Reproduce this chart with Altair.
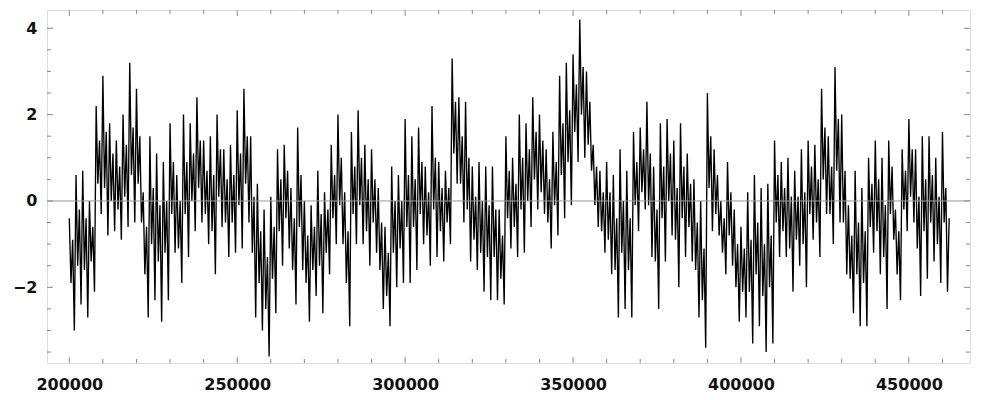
import altair as alt
import pandas as pd

values = [
    -0.4, -1.9, -0.9, -3.0, 0.6, -1.5, -0.2, -2.4, 0.7, -1.6, -0.4, -2.7, 0.0, -1.4, -0.6, -2.1, 2.2, 0.4, 1.4, -0.3,
    2.9, 0.3, 1.6, -0.8, 1.8, 0.0, 1.1, -0.7, 1.4, -0.2, 0.8, -0.9, 2.0, 0.1, 1.3, -0.6, 3.2, 0.6, 1.7, -0.5,
    2.6, 0.4, 1.5, -0.5, 0.2, -1.7, -0.6, -2.7, 1.5, -1.0, 0.3, -2.3, 1.1, -1.4, -0.1, -2.8, 0.9, -1.2, 0.0, -2.3,
    1.8, -0.3, 0.9, -1.2, 0.6, -1.1, 0.0, -1.9, 2.0, -0.3, 0.9, -1.3, 1.8, 0.0, 1.1, -0.7, 2.4, 0.3, 1.4, -0.5,
    1.4, -0.3, 0.7, -1.0, 1.5, -0.7, 0.6, -1.7, 2.0, 0.1, 1.2, -0.6, 1.2, -0.5, 0.5, -1.3, 1.3, -0.5, 0.6, -1.2,
    2.1, -0.1, 1.1, -1.1, 2.6, 0.4, 1.5, -0.5, 1.5, -1.2, 0.1, -2.7, 0.4, -1.9, -0.7, -3.0, -0.2, -2.5, -1.3, -3.6,
    0.1, -1.8, -0.6, -2.6, 1.2, -0.7, 0.5, -1.5, 1.3, -0.4, 0.7, -1.1, 0.3, -1.6, -0.4, -2.4, 1.7, -0.6, 0.6, -1.6,
    0.0, -1.9, -0.8, -2.8, -0.1, -1.6, -0.6, -2.2, 0.7, -1.5, -0.3, -2.6, 0.2, -1.2, -0.2, -1.7, 1.3, -0.4, 0.6, -1.0,
    2.0, -0.1, 1.0, -1.0, 0.2, -1.9, -0.7, -2.9, 1.6, -0.3, 0.8, -1.0, 2.1, -0.1, 1.0, -1.0, 1.3, -0.7, 0.5, -1.5,
    1.2, -0.5, 0.5, -1.2, 0.3, -1.6, -0.5, -2.5, -0.6, -2.2, -1.2, -2.9, 0.8, -1.2, 0.0, -2.0, 0.6, -1.1, 0.0, -1.9,
    1.9, -0.6, 0.6, -1.9, 1.5, -0.6, 0.5, -1.6, 1.7, -0.3, 0.9, -1.0, 0.8, -0.8, 0.2, -1.5, 2.2, -0.2, 1.0, -1.3,
    0.9, -0.7, 0.3, -1.4, 0.7, -0.5, 0.3, -1.0, 3.3, 1.1, 2.3, 0.4, 2.4, 0.4, 1.5, -0.5, 2.3, -0.2, 1.0, -1.4,
    0.8, -0.9, 0.1, -1.6, 0.9, -1.2, 0.0, -2.1, 0.8, -1.3, -0.1, -2.3, 0.8, -1.3, -0.2, -2.3, -0.2, -1.8, -0.8, -2.4,
    1.5, -0.4, 0.7, -1.1, 1.0, -0.6, 0.4, -1.3, 2.0, -0.2, 1.0, -1.2, 1.8, 0.0, 1.2, -0.6, 2.4, 0.5, 1.6, -0.2,
    2.0, 0.2, 1.4, -0.3, 1.2, -0.5, 0.5, -1.1, 1.6, -0.1, 0.9, -0.8, 2.9, 0.6, 1.8, -0.4, 3.2, 0.9, 2.1, -0.1,
    3.4, 1.6, 2.7, 0.9, 4.2, 2.0, 3.1, 1.0, 3.0, 1.3, 2.3, 0.7, 1.3, -0.1, 0.8, -0.6, 0.7, -0.7, 0.2, -1.2,
    0.9, -0.9, 0.2, -1.7, 0.6, -1.6, -0.4, -2.7, 1.2, -1.2, 0.0, -2.5, 0.7, -1.6, -0.4, -2.7, 1.6, -0.1, 0.9, -0.7,
    1.7, 0.2, 1.2, -0.2, 2.3, -0.1, 1.1, -1.3, 0.8, -1.4, -0.2, -2.5, 1.8, -0.4, 0.8, -1.4, 1.9, 0.0, 1.1, -0.8,
    1.4, -0.9, 0.3, -2.0, 1.8, -0.4, 0.8, -1.3, 1.1, -0.6, 0.4, -1.4, 0.5, -1.6, -0.5, -2.7, 0.0, -2.3, -1.1, -3.4,
    2.5, 0.3, 1.5, -0.7, 1.2, -0.3, 0.6, -0.8, 0.0, -1.2, -0.4, -1.7, 0.9, -0.8, 0.2, -1.5, -0.2, -2.0, -1.0, -2.8,
    -0.6, -2.1, -1.1, -2.7, 0.2, -2.1, -0.9, -3.3, 0.6, -1.7, -0.5, -2.9, 0.3, -2.2, -1.0, -3.5, 0.4, -2.0, -0.8, -3.3,
    1.4, -0.5, 0.6, -1.3, 0.9, -0.7, 0.3, -1.3, 1.0, -1.1, 0.1, -2.1, 0.7, -0.9, 0.1, -1.5, 1.2, -1.0, 0.2, -2.0,
    1.4, -0.3, 0.8, -0.9, 1.3, -0.5, 0.5, -1.3, 2.6, 0.5, 1.7, -0.3, 1.5, -0.3, 0.8, -1.0, 3.1, 0.7, 1.9, -0.5,
    2.0, -0.5, 0.7, -1.7, -0.1, -1.8, -0.8, -2.6, 0.7, -1.7, -0.5, -2.9, 0.3, -1.9, -0.7, -2.9, 1.0, -0.6, 0.4, -1.2,
    1.4, -0.7, 0.5, -1.7, 1.0, -1.3, -0.1, -2.5, 1.4, -0.3, 0.8, -0.9, -0.2, -1.7, -0.7, -2.3, 1.2, -0.2, 0.7, -0.7,
    1.9, 0.1, 1.2, -0.5, 1.2, -1.1, 0.1, -2.2, 1.5, -0.7, 0.5, -1.8, 1.5, -0.5, 0.6, -1.4, 1.0, -1.0, 0.1, -1.9,
    1.6, -0.5, 0.3, -2.1, -0.4,
]
x_start = 200000
x_step = 500
positions = [x_start + i * x_step for i in range(len(values))]

x_major = [200000, 250000, 300000, 350000, 400000, 450000]
x_minor = [210000, 220000, 230000, 240000, 260000, 270000, 280000, 290000,
           310000, 320000, 330000, 340000, 360000, 370000, 380000, 390000,
           410000, 420000, 430000, 440000, 460000]
y_major = [-2, 0, 2, 4]
y_minor = [-3.5, -3, -2.5, -1.5, -1, -0.5, 0.5, 1, 1.5, 2.5, 3, 3.5]

W, H = 923, 353
XDOM = [193360, 468200]
YDOM = [-3.753, 4.423]
FRAME = "#8a8a8a"
FONT = "DejaVu Sans"

xs = alt.Scale(domain=XDOM, zero=False, nice=False)
ys = alt.Scale(domain=YDOM, zero=False, nice=False)

AX = alt.Axis(values=x_major, format="d", ticks=False, domain=False, grid=False,
              labelPadding=13, labelFont=FONT, labelFontSize=16,
              labelFontWeight="bold", labelColor="#111111", title=None)
AY = alt.Axis(values=y_major, format="d", ticks=False, domain=False, grid=False,
              labelPadding=10, labelFont=FONT, labelFontSize=16,
              labelFontWeight="bold", labelColor="#111111", title=None)

df = pd.DataFrame({"x": positions, "y": values})

line = alt.Chart(df).mark_line(color="black", strokeWidth=1.35, clip=True).encode(
    x=alt.X("x:Q", scale=xs, axis=AX, title=None),
    y=alt.Y("y:Q", scale=ys, axis=AY, title=None),
)

zero = alt.Chart(pd.DataFrame({"z": [0]})).mark_rule(color="#999999", strokeWidth=1).encode(
    y=alt.Y("z:Q", scale=ys, axis=AY, title=None)
)

def xticks(vals, size):
    d = pd.DataFrame({"v": vals})
    bot = alt.Chart(d).mark_rule(color=FRAME, strokeWidth=1).encode(
        x=alt.X("v:Q", scale=xs, axis=AX, title=None), y=alt.value(H), y2=alt.value(H - size))
    top = alt.Chart(d).mark_rule(color=FRAME, strokeWidth=1).encode(
        x=alt.X("v:Q", scale=xs, axis=AX, title=None), y=alt.value(0), y2=alt.value(size))
    return [bot, top]

def yticks(vals, size):
    d = pd.DataFrame({"v": vals})
    lft = alt.Chart(d).mark_rule(color=FRAME, strokeWidth=1).encode(
        y=alt.Y("v:Q", scale=ys, axis=AY, title=None), x=alt.value(0), x2=alt.value(size))
    rgt = alt.Chart(d).mark_rule(color=FRAME, strokeWidth=1).encode(
        y=alt.Y("v:Q", scale=ys, axis=AY, title=None), x=alt.value(W), x2=alt.value(W - size))
    return [lft, rgt]

layers = [line, zero] + xticks(x_major, 6) + xticks(x_minor, 4) + yticks(y_major, 6) + yticks(y_minor, 4)

chart = alt.layer(*layers).properties(
    width=W, height=H,
    autosize=alt.AutoSizeParams(type="none"),
    padding={"left": 39, "top": 2, "right": 20, "bottom": 30},
).configure_view(stroke=FRAME, strokeWidth=1).configure(background="white")

chart.save("out.html", embed_options={"renderer": "svg", "actions": False})
